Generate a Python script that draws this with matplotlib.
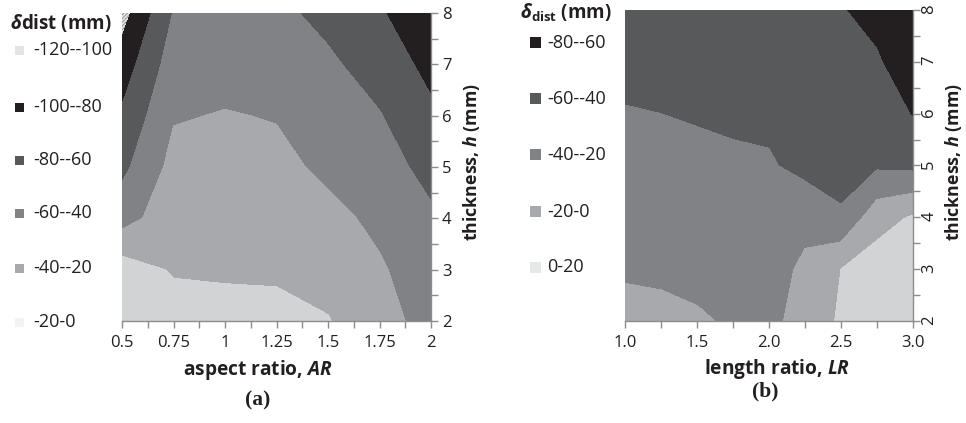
import numpy as np
import matplotlib.pyplot as plt
from matplotlib.patches import Rectangle

plt.rcParams['font.family'] = ['Open Sans', 'DejaVu Sans']
plt.rcParams['mathtext.fontset'] = 'custom'
plt.rcParams['mathtext.it'] = 'Open Sans:italic:bold'
plt.rcParams['mathtext.rm'] = 'Open Sans:bold'
plt.rcParams['mathtext.bf'] = 'Open Sans:bold'
plt.rcParams['hatch.color'] = '#8a8a8a'
plt.rcParams['hatch.linewidth'] = 0.6

# grid of the two surfaces (rows = thickness h, cols = ratio)
h = [2, 3, 4, 5, 6, 7, 8]
ar = [0.5, 0.75, 1.0, 1.25, 1.5, 1.75, 2.0]
lr = [1.0, 1.25, 1.5, 1.75, 2.0, 2.25, 2.5, 2.75, 3.0]

dist_a = [
    [-8, -10, -12, -12, -19, -35, -45],
    [-10, -22, -23, -24, -27, -38, -50],
    [-48, -28, -27, -29, -35, -44, -57],
    [-65, -34, -31, -35, -44, -52, -66],
    [-77, -41.5, -39, -41, -51, -59, -76],
    [-91, -50, -47, -49, -57, -68, -86],
    [-108, -59, -52, -56, -65, -78, -95],
]
dist_b = [
    [-12, -14, -17, -23, -24, -14, 3, 12, 15],
    [-23, -24, -27, -28, -29, -16, 0, 10, 10],
    [-28, -29, -32, -33, -34, -26, -38, -8, 2],
    [-33, -34, -37, -38, -38, -46, -46, -43, -45],
    [-39, -40, -41, -42, -44, -50, -52, -50, -61],
    [-45, -46, -47, -48, -50, -55, -57, -58, -72],
    [-50, -52, -54, -55, -57, -58, -59, -66, -80],
]

levels_a = [-120, -100, -80, -60, -40, -20, 0]
labels_a = ['-120--100', '-100--80', '-80--60', '-60--40', '-40--20', '-20-0']
colors_a = ['#e4e4e4', '#231f20', '#58595b', '#808285', '#a7a9ac', '#d1d3d4']
swatch_a = ['#e4e4e4', '#231f20', '#58595b', '#808285', '#a7a9ac', '#f1f2f2']

levels_b = [-80, -60, -40, -20, 0, 20]
labels_b = ['-80--60', '-60--40', '-40--20', '-20-0', '0-20']
colors_b = ['#231f20', '#58595b', '#808285', '#a7a9ac', '#d1d3d4']
swatch_b = ['#231f20', '#58595b', '#808285', '#a7a9ac', '#e6e7e8']

axis_col = '#8c8c8c'
txt = '#231f20'

fig = plt.figure(figsize=(9.66, 4.23), dpi=100)
W, H = 966, 423


def px_ax(l, t, r, b):
    return fig.add_axes([l / W, 1 - b / H, (r - l) / W, (b - t) / H])


def style(ax):
    for s in ['top', 'left']:
        ax.spines[s].set_visible(False)
    for s in ['bottom', 'right']:
        ax.spines[s].set_color(axis_col)
        ax.spines[s].set_linewidth(1.0)
    ax.yaxis.tick_right()
    ax.tick_params(which='both', length=5, color=axis_col, width=1.0,
                   labelsize=12, labelcolor=txt)
    ax.tick_params(axis='x', pad=5)
    ax.tick_params(axis='y', pad=3)


# (a)
axa = px_ax(122, 13, 431, 321)
hatches = ['/////////', None, None, None, None, None]
axa.contourf(ar, h, dist_a, levels=levels_a, colors=colors_a, hatches=hatches)
axa.set_xlim(0.5, 2.0)
axa.set_ylim(2, 8)
style(axa)
axa.set_xticks([0.5, 0.75, 1.0, 1.25, 1.5, 1.75, 2.0],
               ['0.5', '0.75', '1', '1.25', '1.5', '1.75', '2'])
axa.set_xticks(np.arange(0.625, 2.0, 0.25), minor=True)
axa.set_yticks(h)
axa.set_yticks(np.arange(2.5, 8, 1.0), minor=True)

# (b)
axb = px_ax(625, 10, 913, 321)
axb.contourf(lr, h, dist_b, levels=levels_b, colors=colors_b)
axb.set_xlim(1.0, 3.0)
axb.set_ylim(2, 8)
style(axb)
axb.set_xticks([1.0, 1.5, 2.0, 2.5, 3.0], ['1.0', '1.5', '2.0', '2.5', '3.0'])
axb.set_xticks(np.arange(1.25, 3.0, 0.5), minor=True)
axb.set_yticks(h)
axb.set_yticks(np.arange(2.5, 8, 1.0), minor=True)
axb.tick_params(axis='y', labelrotation=90, pad=1)

# axis labels
fig.text(258 / W, 1 - 370 / H, 'aspect ratio, $AR$', ha='center', va='center',
         fontsize=13.8, fontweight='bold', color=txt)
fig.text(777 / W, 1 - 369 / H, 'length ratio, $LR$', ha='center', va='center',
         fontsize=13.8, fontweight='bold', color=txt)
fig.text(471 / W, 1 - 162 / H, 'thickness, $h$ (mm)', ha='center', va='center',
         rotation=90, fontsize=12.8, fontweight='bold', color=txt)
fig.text(953 / W, 1 - 162 / H, 'thickness, $h$ (mm)', ha='center', va='center',
         rotation=90, fontsize=12.8, fontweight='bold', color=txt)

fig.text(258 / W, 1 - 400 / H, '(a)', ha='center', va='center',
         family='Liberation Serif', fontweight='bold', fontsize=15.5, color=txt)
fig.text(765 / W, 1 - 391 / H, '(b)', ha='center', va='center',
         family='Liberation Serif', fontweight='bold', fontsize=15.5, color=txt)

# legends
fig.text(10 / W, 1 - 23 / H, r'$\delta$dist (mm)', ha='left', va='center',
         fontsize=13.5, fontweight='bold', color=txt)
ys_a = [50, 107, 160, 213, 268, 322]
for i, (lab, c) in enumerate(zip(labels_a, swatch_a)):
    y = ys_a[i]
    fig.add_artist(Rectangle((15 / W, 1 - (y + 5) / H), 9 / W, 9 / H,
                             transform=fig.transFigure, facecolor=c,
                             edgecolor='none', hatch=hatches[i]))
    fig.text(33 / W, 1 - y / H, lab, ha='left', va='center', fontsize=13, color=txt)

fig.text(520 / W, 1 - 13 / H, r'$\delta_{\mathrm{dist}}$ (mm)', ha='left', va='center',
         fontsize=13.5, fontweight='bold', color=txt)
ys_b = [43, 99, 155, 212, 267]
for i, (lab, c) in enumerate(zip(labels_b, swatch_b)):
    y = ys_b[i]
    fig.add_artist(Rectangle((530 / W, 1 - (y + 5.5) / H), 11 / W, 11 / H,
                             transform=fig.transFigure, facecolor=c, edgecolor='none'))
    fig.text(547 / W, 1 - y / H, lab, ha='left', va='center', fontsize=13, color=txt)

fig.savefig('out.png', dpi=100)
